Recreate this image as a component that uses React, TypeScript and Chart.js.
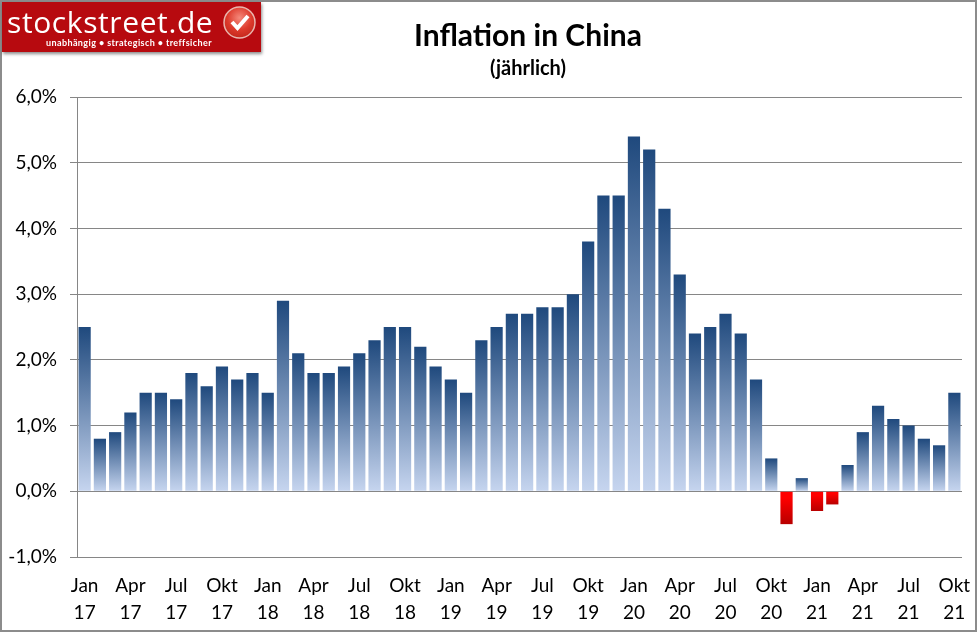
import React, { useEffect, useRef } from "react";
import { Chart, registerables } from "chart.js";

Chart.register(...registerables);

const monthNames = ["Jan","Feb","Mrz","Apr","Mai","Jun","Jul","Aug","Sep","Okt","Nov","Dez"];
const years = ["17","18","19","20","21"];
const categories = years.flatMap((y) => monthNames.map((m) => `${m} ${y}`)).slice(0, 58);
const inflation = [
  2.5,0.8,0.9,1.2,1.5,1.5,1.4,1.8,1.6,1.9,1.7,1.8,
  1.5,2.9,2.1,1.8,1.8,1.9,2.1,2.3,2.5,2.5,2.2,1.9,
  1.7,1.5,2.3,2.5,2.7,2.7,2.8,2.8,3.0,3.8,4.5,4.5,
  5.4,5.2,4.3,3.3,2.4,2.5,2.7,2.4,1.7,0.5,-0.5,0.2,
  -0.3,-0.2,0.4,0.9,1.3,1.1,1.0,0.8,0.7,1.5,
];
const titleText = "Inflation in China";
const subtitleText = "(jährlich)";
const FONT = "Lato, 'Open Sans', sans-serif";
const GREY = "#868686";

const shiftTitles = {
  id: "shiftTitles",
  afterLayout(chart: any) {
    chart.boxes.forEach((b: any) => {
      if (b.options && b.options.text !== undefined) {
        const d = 528 - (b.left + b.right) / 2;
        b.left += d;
        b.right += d;
      }
    });
  },
};

export default function App() {
  const ref = useRef<HTMLCanvasElement>(null);
  useEffect(() => {
    const chart = new Chart(ref.current!, {
      type: "bar",
      plugins: [shiftTitles],
      data: {
        labels: categories,
        datasets: [{
          data: inflation,
          barPercentage: 0.8,
          categoryPercentage: 1,
          backgroundColor: (c: any) => {
            const ch = c.chart;
            const v = c.raw;
            if (!ch.chartArea || typeof v !== "number") return "#4f6f9f";
            const y = ch.scales.y;
            const g = ch.ctx.createLinearGradient(0, y.getPixelForValue(v), 0, y.getPixelForValue(0));
            if (v >= 0) {
              g.addColorStop(0, "#1f497d");
              g.addColorStop(1, "#c6d5ef");
            } else {
              g.addColorStop(0, "#b80000");
              g.addColorStop(0.8, "#ff0000");
              g.addColorStop(1, "#ff0000");
            }
            return g;
          },
        }],
      },
      options: {
        responsive: false,
        animation: false,
        devicePixelRatio: 1,
        layout: { padding: { top: 0, right: 15, bottom: 0, left: 0 } },
        plugins: {
          legend: { display: false },
          tooltip: { enabled: false },
          title: {
            display: true,
            text: titleText,
            color: "#000",
            font: { family: FONT, size: 30, weight: "bold", lineHeight: 1.2 },
            padding: { top: 18, bottom: 0 },
          },
          subtitle: {
            display: true,
            text: subtitleText,
            color: "#000",
            font: { family: FONT, size: 20, weight: "bold", lineHeight: 1.2 },
            padding: { top: 3, bottom: 16 },
          },
        },
        scales: {
          x: {
            afterFit: (s: any) => { s.height = 75; s.paddingRight = 0; s.paddingLeft = 0; },
            grid: { display: false },
            border: { display: false },
            ticks: {
              autoSkip: false,
              maxRotation: 0,
              minRotation: 0,
              padding: 7,
              color: "#000",
              font: { family: FONT, size: 19, lineHeight: 1.42 },
              callback: (_: any, i: number) => (i % 3 === 0 ? categories[i].split(" ") : ""),
            },
          },
          y: {
            min: -1,
            max: 6,
            afterFit: (s: any) => { s.width = 77; },
            grid: { color: GREY, lineWidth: 1, tickLength: 7, tickColor: GREY },
            border: { display: true, color: GREY, width: 1 },
            ticks: {
              stepSize: 1,
              padding: 13,
              color: "#000",
              font: { family: FONT, size: 19 },
              callback: (v: any) => `${Number(v).toFixed(1).replace(".", ",")}%`,
            },
          },
        },
      },
    } as any);
    return () => chart.destroy();
  }, []);

  return (
    <div style={{ position: "relative", width: 977, height: 632 }}>
      <style>{`html,body{margin:0;background:#fff}`}</style>
      <canvas ref={ref} width={977} height={632} style={{ display: "block" }} />
      <div style={{ position: "absolute", inset: 0, boxSizing: "border-box", border: "2px solid #8c8c8c", pointerEvents: "none" }} />
      <div style={{ position: "absolute", left: 2, top: 2, width: 259, height: 50, background: "#b70a0f", boxShadow: "1px 2px 3px rgba(0,0,0,0.45)", color: "#fff", overflow: "hidden" }}>
        <div style={{ position: "absolute", left: 5, top: -2, fontFamily: "'Open Sans', sans-serif", fontSize: 30, fontWeight: 500, letterSpacing: 0.6, whiteSpace: "nowrap", lineHeight: "44px" }}>stockstreet.de</div>
        <div style={{ position: "absolute", left: 44, top: 35, fontFamily: "Lato, sans-serif", fontSize: 9, fontWeight: 700, letterSpacing: 0.4, whiteSpace: "nowrap", lineHeight: "12px" }}>unabhängig • strategisch • treffsicher</div>
        <svg style={{ position: "absolute", left: 221, top: 4 }} width="33" height="33" viewBox="0 0 33 33">
          <defs>
            <radialGradient id="ball" cx="50%" cy="35%" r="65%">
              <stop offset="0%" stopColor="#f58a7c" />
              <stop offset="60%" stopColor="#dd3a2c" />
              <stop offset="100%" stopColor="#c4281c" />
            </radialGradient>
          </defs>
          <circle cx="16.5" cy="16.5" r="15.5" fill="url(#ball)" stroke="#e9b5ad" strokeWidth="1.5" />
          <path d="M9 16 L14.5 22 L25 10" fill="none" stroke="#fff" strokeWidth="4" />
        </svg>
      </div>
    </div>
  );
}
